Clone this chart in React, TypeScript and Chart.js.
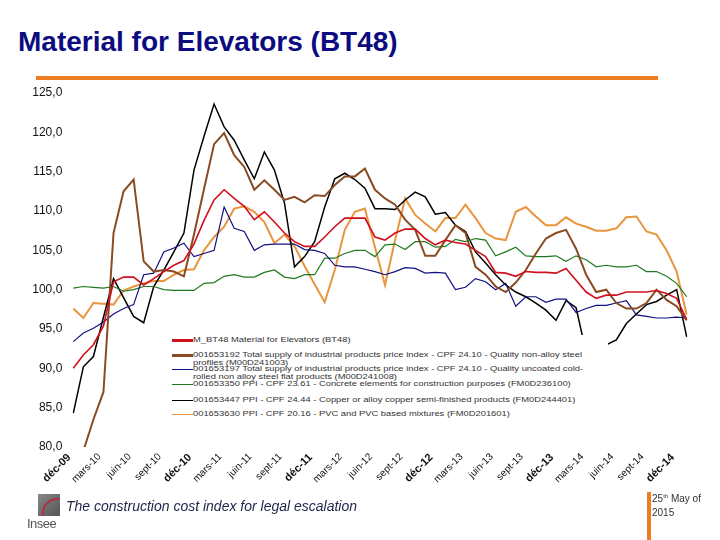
import React, { useEffect, useRef } from 'react';
import { Chart, registerables } from 'chart.js';

Chart.register(...registerables);

const categories = [
  'déc-09',
  'janv-10', 'févr-10', 'mars-10', 'avr-10', 'mai-10', 'juin-10', 'juil-10', 'août-10', 'sept-10', 'oct-10', 'nov-10', 'déc-10',
  'janv-11', 'févr-11', 'mars-11', 'avr-11', 'mai-11', 'juin-11', 'juil-11', 'août-11', 'sept-11', 'oct-11', 'nov-11', 'déc-11',
  'janv-12', 'févr-12', 'mars-12', 'avr-12', 'mai-12', 'juin-12', 'juil-12', 'août-12', 'sept-12', 'oct-12', 'nov-12', 'déc-12',
  'janv-13', 'févr-13', 'mars-13', 'avr-13', 'mai-13', 'juin-13', 'juil-13', 'août-13', 'sept-13', 'oct-13', 'nov-13', 'déc-13',
  'janv-14', 'févr-14', 'mars-14', 'avr-14', 'mai-14', 'juin-14', 'juil-14', 'août-14', 'sept-14', 'oct-14', 'nov-14', 'déc-14',
  'janv-15',
];

const tickLabels = [
  'déc-09', 'mars-10', 'juin-10', 'sept-10', 'déc-10', 'mars-11', 'juin-11', 'sept-11', 'déc-11',
  'mars-12', 'juin-12', 'sept-12', 'déc-12', 'mars-13', 'juin-13', 'sept-13', 'déc-13',
  'mars-14', 'juin-14', 'sept-14', 'déc-14',
];

const yTicks = [80, 85, 90, 95, 100, 105, 110, 115, 120, 125];

const bt48 = [
  90.0, 91.7, 93.0, 95.4, 101.0, 101.6, 101.6, 100.6, 101.4, 102.3, 103.1, 103.7, 105.8, 108.8, 111.4, 112.7,
  111.6, 110.6, 108.9, 109.9, 108.6, 107.2, 106.1, 105.5, 105.5, 106.7, 108.0, 109.1, 109.1, 109.1, 106.7,
  106.3, 107.2, 107.7, 107.7, 106.5, 105.7, 106.3, 106.0, 105.8, 105.0, 104.2, 102.2, 102.1, 101.7, 102.3,
  102.2, 102.2, 102.1, 102.7, 101.2, 99.7, 98.9, 99.3, 99.3, 99.7, 99.7, 99.7, 99.9, 99.5, 98.9, 96.2,
];

const steelProfiles = [
  76.0, 79.5, 83.5, 87.0, 107.2, 112.5, 114.0, 103.6, 102.3, 102.5, 102.3, 101.7, 107.0, 112.8, 118.5, 119.9,
  117.1, 115.6, 112.7, 113.9, 112.7, 111.4, 111.8, 111.1, 112.0, 111.9, 113.3, 114.4, 114.4, 115.4, 112.7,
  111.6, 110.8, 108.9, 107.6, 104.3, 104.3, 106.3, 108.2, 107.2, 102.9, 101.9, 100.4, 99.7, 100.9, 102.5,
  104.6, 106.5, 107.2, 107.6, 105.2, 101.9, 99.7, 100.0, 98.3, 97.6, 97.6, 98.3, 100.0, 98.7, 97.9, 96.1,
];

const steelFlat = [
  93.4, 94.5, 95.1, 95.9, 96.9, 97.6, 98.1, 101.9, 102.1, 104.8, 105.3, 105.9, 104.2, 104.6, 105.0, 110.5,
  107.8, 107.4, 105.0, 105.7, 105.8, 105.8, 105.8, 105.1, 105.0, 104.6, 103.1, 102.9, 102.9, 102.6, 102.3,
  101.9, 102.3, 102.8, 102.7, 102.1, 102.2, 102.1, 100.0, 100.3, 101.4, 101.0, 100.0, 100.8, 97.9, 99.1,
  99.1, 98.4, 98.8, 98.8, 97.1, 97.6, 98.0, 98.0, 98.3, 98.6, 96.8, 96.6, 96.4, 96.4, 96.5, 96.4,
];

const concrete = [
  100.2, 100.4, 100.3, 100.2, 100.4, 99.8, 100.0, 100.4, 100.4, 100.0, 99.9, 99.9, 99.9, 100.8, 100.9, 101.7,
  101.9, 101.6, 101.6, 102.2, 102.5, 101.6, 101.4, 101.9, 101.9, 104.0, 104.0, 104.6, 105.0, 105.0, 104.2,
  105.7, 105.8, 105.1, 106.1, 106.1, 105.4, 105.5, 106.4, 106.1, 106.5, 106.3, 104.3, 104.8, 105.4, 104.3,
  104.2, 104.2, 104.3, 103.6, 104.3, 103.8, 102.9, 103.1, 102.9, 102.9, 103.1, 102.3, 102.3, 101.7, 100.8, 99.1,
];

const copper = [
  84.3, 90.2, 91.5, 96.5, 101.4, 99.0, 96.6, 95.8, 100.4, 102.5, 104.8, 107.2, 115.2, 119.5, 123.6, 120.7,
  119.0, 116.5, 114.1, 117.5, 115.2, 111.0, 102.9, 104.2, 106.1, 110.5, 114.1, 114.8, 114.0, 112.9, 110.3,
  110.3, 110.2, 111.4, 112.4, 111.8, 109.6, 109.8, 108.2, 107.4, 104.8, 103.4, 101.9, 100.6, 99.7, 99.1,
  98.3, 97.4, 96.1, 98.6, 97.7, 92.0, 91.0, 93.0, 93.6, 95.7, 96.9, 98.1, 98.5, 99.3, 100.0, 94.0,
];

const pvc = [
  97.6, 96.4, 98.3, 98.2, 98.1, 99.9, 100.4, 100.8, 101.1, 101.1, 101.9, 102.5, 102.6, 105.0, 106.7, 108.0,
  110.3, 110.6, 109.9, 108.6, 105.9, 107.0, 105.5, 103.0, 100.7, 98.4, 102.5, 107.6, 109.9, 110.3, 105.4,
  100.6, 106.3, 111.6, 109.5, 108.4, 107.4, 109.1, 109.1, 110.8, 109.1, 107.2, 106.5, 106.3, 109.9, 110.5,
  109.3, 108.2, 108.2, 109.2, 108.4, 108.0, 107.5, 107.5, 107.8, 109.2, 109.3, 107.4, 107.0, 105.0, 102.3, 96.8,
];

const seriesNames = [
  'M_BT48 Material for Elevators (BT48)',
  '001653192 Total supply of industrial products price index - CPF 24.10 - Quality non-alloy steel profiles (M00D241003)',
  '001653197 Total supply of industrial products price index - CPF 24.10 - Quality uncoated cold-rolled non alloy steel flat products (M00D241008)',
  '001653350 PPI - CPF 23.61 - Concrete elements for construction purposes (FM0D236100)',
  '001653447 PPI - CPF 24.44 - Copper or alloy copper semi-finished products (FM0D244401)',
  '001653630 PPI - CPF 20.16 - PVC and PVC based mixtures (FM0D201601)',
];

const legendLines = [
  ['M_BT48 Material for Elevators (BT48)'],
  ['001653192 Total supply of industrial products price index - CPF 24.10 - Quality non-alloy steel', 'profiles (M00D241003)'],
  ['001653197 Total supply of industrial products price index - CPF 24.10 - Quality uncoated cold-', 'rolled non alloy steel flat products (M00D241008)'],
  ['001653350 PPI - CPF 23.61 - Concrete elements for construction purposes (FM0D236100)'],
  ['001653447 PPI - CPF 24.44 - Copper or alloy copper semi-finished products (FM0D244401)'],
  ['001653630 PPI - CPF 20.16 - PVC and PVC based mixtures (FM0D201601)'],
];

const colors = ['#d0101c', '#8a4b22', '#101080', '#1e7a1e', '#000000', '#e8953e'];
const widths = [1.6, 2, 1.2, 1.2, 1.5, 2];
const legendWidths = [3, 3, 1, 1, 1, 1];
const legendRowY = [340, 355, 369, 384, 400, 414];

const FONT = '"Liberation Sans", Arial, Helvetica, sans-serif';

export default function App() {
  const canvasRef = useRef<HTMLCanvasElement | null>(null);

  useEffect(() => {
    const canvas = canvasRef.current;
    if (!canvas) return;
    const allSeries = [bt48, steelProfiles, steelFlat, concrete, copper, pvc];
    const chart = new Chart(canvas, {
      type: 'line',
      data: {
        labels: categories,
        datasets: allSeries.map((d, i) => ({
          label: seriesNames[i],
          data: d,
          borderColor: colors[i],
          backgroundColor: colors[i],
          borderWidth: widths[i],
          pointRadius: 0,
          tension: 0,
          fill: false,
        })),
      },
      options: {
        responsive: false,
        animation: false,
        devicePixelRatio: 1,
        layout: { padding: { top: 93, right: 33.3, bottom: 0, left: 0 } },
        plugins: {
          legend: { display: false },
          tooltip: { enabled: false },
          title: { display: false },
        },
        scales: {
          x: {
            grid: { display: false, drawTicks: false },
            border: { display: false },
            ticks: {
              autoSkip: false,
              maxRotation: 45,
              minRotation: 45,
              padding: 4,
              labelOffset: -4,
              color: '#111',
              callback: (_v: any, idx: number) => (tickLabels.includes(categories[idx]) ? categories[idx] : ''),
              font: (ctx: any) => {
                const lbl = ctx && ctx.tick ? String(ctx.tick.label) : '';
                const bold = lbl.startsWith('déc');
                return { family: FONT, size: bold ? 11 : 10, weight: bold ? 'bold' : 'normal' };
              },
            },
            afterFit: (s: any) => {
              s.height = 93;
            },
          },
          y: {
            min: 80,
            max: 125,
            afterBuildTicks: (s: any) => {
              s.ticks = yTicks.map((v) => ({ value: v }));
            },
            grid: { display: false, drawTicks: false },
            border: { display: false },
            ticks: {
              padding: 11,
              color: '#111',
              font: { family: FONT, size: 12 },
              callback: (v: any) => Number(v).toFixed(1).replace('.', ','),
            },
            afterFit: (s: any) => {
              s.width = 73.3;
            },
          },
        },
      },
    });
    return () => chart.destroy();
  }, []);

  return (
    <div style={{ position: 'fixed', left: 0, top: 0, width: 720, height: 540, background: '#fff', overflow: 'hidden', fontFamily: FONT }}>
      <div
        style={{
          position: 'absolute',
          left: 18,
          top: 28,
          fontSize: 28,
          lineHeight: '28px',
          fontWeight: 'bold',
          color: '#0c0c80',
          whiteSpace: 'nowrap',
        }}
      >
        Material for Elevators (BT48)
      </div>
      <div style={{ position: 'absolute', left: 36, top: 76, width: 622, height: 4, background: '#ed7d22' }} />
      <canvas ref={canvasRef} width={720} height={540} style={{ position: 'absolute', left: 0, top: 0, width: 720, height: 540 }} />
      <div style={{ position: 'absolute', left: 168, top: 335, width: 440, height: 86, background: '#fff' }}>
        {legendLines.map((lines, i) => (
          <React.Fragment key={i}>
            <div
              style={{
                position: 'absolute',
                left: 4,
                top: legendRowY[i] - 335 - legendWidths[i] / 2,
                width: 21,
                height: legendWidths[i],
                background: colors[i],
              }}
            />
            <div
              style={{
                position: 'absolute',
                left: 25,
                top: legendRowY[i] - 335 - 4,
                fontSize: 8,
                lineHeight: '7.5px',
                color: '#333',
                whiteSpace: 'nowrap',
                transform: 'scaleX(1.17)',
                transformOrigin: 'left top',
              }}
            >
              {lines.map((t, j) => (
                <div key={j}>{t}</div>
              ))}
            </div>
          </React.Fragment>
        ))}
      </div>
      <div style={{ position: 'absolute', left: 38, top: 494, width: 22, height: 22, background: 'linear-gradient(135deg, #888 0%, #555 100%)', overflow: 'hidden' }}>
        <div style={{ position: 'absolute', left: 4, top: 4, width: 30, height: 30, borderRadius: '50%', border: '2px solid #b03040', boxSizing: 'border-box' }} />
      </div>
      <div style={{ position: 'absolute', left: 27, top: 517, fontSize: 13, lineHeight: '14px', color: '#555', letterSpacing: -0.5 }}>Insee</div>
      <div style={{ position: 'absolute', left: 66, top: 499, fontSize: 14, lineHeight: '14px', fontStyle: 'italic', color: '#1c2448', whiteSpace: 'nowrap' }}>
        The construction cost index for legal escalation
      </div>
      <div style={{ position: 'absolute', left: 647, top: 492, width: 4, height: 48, background: '#ed7d22' }} />
      <div style={{ position: 'absolute', left: 652, top: 492, fontSize: 10, lineHeight: '14px', color: '#333', whiteSpace: 'nowrap' }}>
        <div>
          25<sup style={{ fontSize: 6, verticalAlign: 'top', lineHeight: '8px' }}>th</sup> May of
        </div>
        <div>2015</div>
      </div>
    </div>
  );
}
